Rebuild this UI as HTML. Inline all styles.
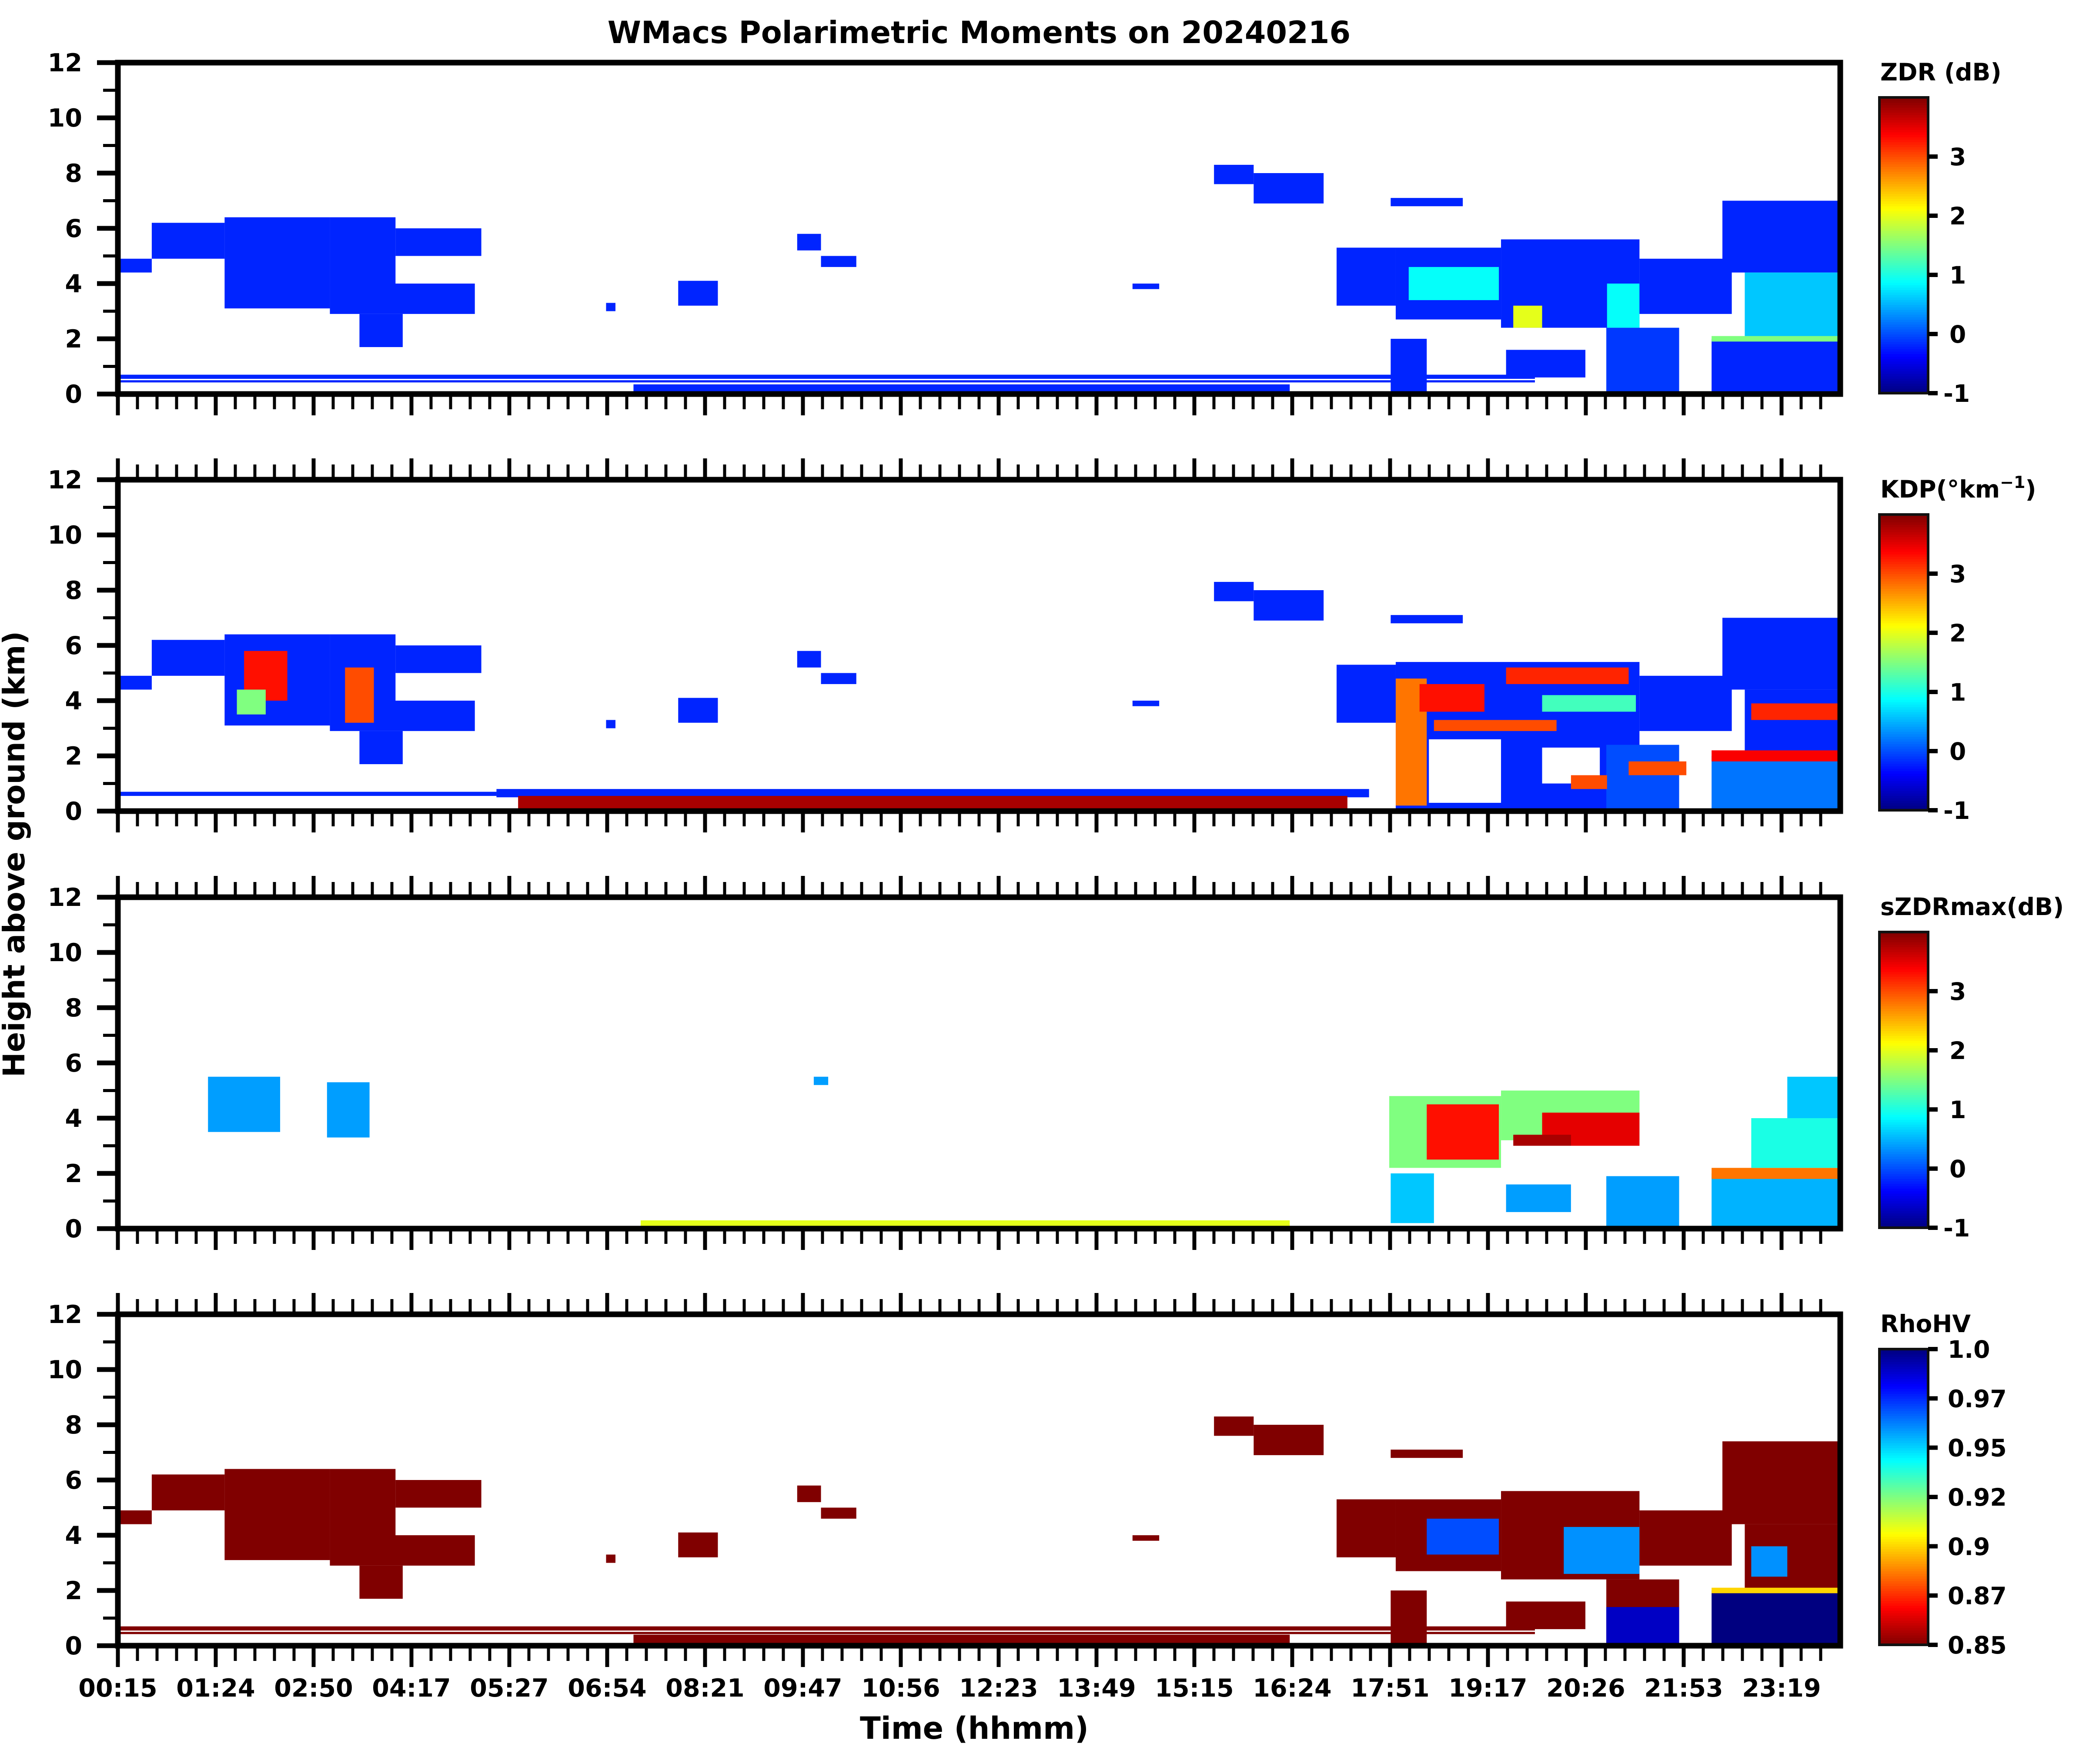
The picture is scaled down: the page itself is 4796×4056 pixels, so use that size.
<!DOCTYPE html>
<html><head><meta charset="utf-8"><style>
html,body{margin:0;padding:0;background:#fff;}
svg{display:block;font-family:"DejaVu Sans","Liberation Sans",sans-serif;font-weight:bold;}
</style></head><body>
<svg id="fig" width="4796" height="4056" viewBox="0 0 4796 4056" xmlns="http://www.w3.org/2000/svg">
<text x="2251" y="99" font-size="70" text-anchor="middle">WMacs Polarimetric Moments on 20240216</text>
<text transform="translate(56,1964) rotate(-90)" font-size="69" text-anchor="middle">Height above ground (km)</text>
<text x="2240" y="3998" font-size="70" text-anchor="middle">Time (hhmm)</text>
</svg>
<script>
// ---- data ----
const xTickLabels = ["00:15","01:24","02:50","04:17","05:27","06:54","08:21","09:47","10:56","12:23","13:49","15:15","16:24","17:51","19:17","20:26","21:53","23:19"];
const yTickLabels = [0,2,4,6,8,10,12];
const panelNames = ["zdr","kdp","szdrmax","rhohv"];
const cbarTitles = ["ZDR (dB)","KDP","sZDRmax(dB)","RhoHV"];
const cbarMin = [-1,-1,-1,0.85];
const cbarMax = [4,4,4,1.0];
const cbarTicksStd = [-1,0,1,2,3];
const cbarTicksRho = ["0.85","0.87","0.9","0.92","0.95","0.97","1.0"];
// cells: [startHour, endHour, bottomKm, topKm, value] (null value = gap)
const zdrCells = [
[0.2,0.72,4.4,4.9,-0.2],[0.72,1.73,4.9,6.2,-0.2],[1.73,3.19,3.1,6.4,-0.2],[3.19,4.1,3.9,6.4,-0.2],
[3.19,5.2,2.9,4.0,-0.2],[4.1,5.29,5.0,6.0,-0.2],[3.6,4.2,1.7,2.9,-0.2],
[9.67,10.0,5.2,5.8,-0.2],[10.0,10.49,4.6,5.0,-0.2],[8.02,8.57,3.2,4.1,-0.2],[7.02,7.15,3.0,3.3,-0.2],
[14.32,14.69,3.8,4.0,-0.2],[15.45,16.0,7.6,8.3,-0.2],[16.0,16.97,6.9,8.0,-0.2],[17.9,18.9,6.8,7.1,-0.2],
[17.15,17.97,3.2,5.3,-0.2],[17.97,19.43,2.7,5.3,-0.2],[19.43,21.35,2.4,5.6,-0.2],
[18.15,19.4,3.4,4.6,0.9],[19.6,20.0,2.4,3.2,2.0],[20.9,21.35,2.4,4.0,0.9],
[21.35,22.63,2.9,4.9,-0.2],[22.5,24.2,4.4,7.0,-0.2],[22.81,24.2,2.0,4.4,0.6],
[22.35,24.2,0.0,2.0,-0.2],[22.35,24.2,1.9,2.1,1.5],[20.89,21.9,0.0,2.4,-0.1],
[17.9,18.4,0.0,2.0,-0.2],[19.5,20.6,0.6,1.6,-0.2],
[0.2,19.9,0.55,0.7,-0.2],[0.2,19.9,0.42,0.5,-0.2],[7.4,16.5,0.0,0.35,-0.2]
];
const kdpCells = [
[0.2,0.72,4.4,4.9,-0.2],[0.72,1.73,4.9,6.2,-0.2],[1.73,3.19,3.1,6.4,-0.2],[3.19,4.1,3.9,6.4,-0.2],
[3.19,5.2,2.9,4.0,-0.2],[4.1,5.29,5.0,6.0,-0.2],[3.6,4.2,1.7,2.9,-0.2],
[2.0,2.6,4.0,5.8,3.3],[3.4,3.8,3.2,5.2,3.0],[1.9,2.3,3.5,4.4,1.5],
[9.67,10.0,5.2,5.8,-0.2],[10.0,10.49,4.6,5.0,-0.2],[8.02,8.57,3.2,4.1,-0.2],[7.02,7.15,3.0,3.3,-0.2],
[14.32,14.69,3.8,4.0,-0.2],[15.45,16.0,7.6,8.3,-0.2],[16.0,16.97,6.9,8.0,-0.2],[17.9,18.9,6.8,7.1,-0.2],
[17.15,17.97,3.2,5.3,-0.2],[17.97,21.35,0.0,5.4,-0.2],[17.97,18.4,0.2,4.8,2.8],
[18.3,19.2,3.6,4.6,3.3],[19.5,21.2,4.6,5.2,3.2],[18.5,20.2,2.9,3.3,3.0],[20.0,21.3,3.6,4.2,1.2],
[18.43,19.43,0.3,2.6,null],[20.0,20.8,1.0,2.3,null],
[21.35,22.63,2.9,4.9,-0.2],[22.5,24.2,4.4,7.0,-0.2],[22.81,24.2,2.0,4.4,-0.2],
[22.9,24.2,3.3,3.9,3.2],[22.35,24.2,0.0,2.0,0.2],[22.35,24.2,1.8,2.2,3.4],[20.89,21.9,0.0,2.4,0.0],
[21.2,22.0,1.3,1.8,3.0],[20.4,20.9,0.8,1.3,3.0],
[0.2,5.5,0.55,0.7,-0.2],[5.5,17.6,0.5,0.8,-0.2],[5.8,17.3,0.1,0.55,3.8]
];
const szdrCells = [
[1.5,2.5,3.5,5.5,0.4],[3.15,3.74,3.3,5.3,0.4],[9.9,10.1,5.2,5.5,0.4],
[17.88,19.43,2.2,4.8,1.5],[18.4,19.4,2.5,4.5,3.3],[19.43,21.35,3.2,5.0,1.5],
[20.0,21.35,3.0,4.2,3.5],[19.6,20.4,3.0,3.4,3.8],[20.89,21.9,0.0,1.9,0.4],
[22.35,24.2,0.0,2.0,0.5],[22.35,24.2,1.8,2.2,2.8],[22.9,24.2,2.2,4.0,1.0],[23.4,24.2,4.0,5.5,0.6],
[7.5,16.5,0.0,0.3,2.0],[17.9,18.5,0.2,2.0,0.6],[19.5,20.4,0.6,1.6,0.4]
];
const rhoCells = [
[0.2,0.72,4.4,4.9,0.85],[0.72,1.73,4.9,6.2,0.85],[1.73,3.19,3.1,6.4,0.85],[3.19,4.1,3.9,6.4,0.85],
[3.19,5.2,2.9,4.0,0.85],[4.1,5.29,5.0,6.0,0.85],[3.6,4.2,1.7,2.9,0.85],
[9.67,10.0,5.2,5.8,0.85],[10.0,10.49,4.6,5.0,0.85],[8.02,8.57,3.2,4.1,0.85],[7.02,7.15,3.0,3.3,0.85],
[14.32,14.69,3.8,4.0,0.85],[15.45,16.0,7.6,8.3,0.85],[16.0,16.97,6.9,8.0,0.85],[17.9,18.9,6.8,7.1,0.85],
[17.15,17.97,3.2,5.3,0.85],[17.97,19.43,2.7,5.3,0.85],[19.43,21.35,2.4,5.6,0.85],
[18.4,19.4,3.3,4.6,0.97],[20.3,21.35,2.6,4.3,0.96],
[21.35,22.63,2.9,4.9,0.85],[22.5,24.2,4.4,7.4,0.85],[22.81,24.2,2.0,4.4,0.85],[22.9,23.4,2.5,3.6,0.96],
[22.35,24.2,0.0,2.0,1.0],[22.35,24.2,1.9,2.1,0.9],[20.89,21.9,0.0,2.4,0.85],[20.89,21.9,0.0,1.4,0.99],
[17.9,18.4,0.0,2.0,0.85],[19.5,20.6,0.6,1.6,0.85],
[0.2,19.9,0.55,0.7,0.85],[0.2,19.9,0.42,0.5,0.85],[7.4,16.5,0.0,0.4,0.85]
];
const allCells = [zdrCells,kdpCells,szdrCells,rhoCells];

// ---- layout ----
const NS = "http://www.w3.org/2000/svg";
const svg = document.getElementById("fig");
const L = 271, R = 4231, PH = 762;
const panelTops = [144, 1103, 2063, 3022];
const T0 = 0.25, X0 = 271, PXH = 165.8;
function xScale(h){ return X0 + (h - T0) * PXH; }
function yScale(km, top){ return top + PH - km / 12 * PH; }
function jet(v){
  v = Math.max(0, Math.min(1, v));
  const c = t => Math.round(255 * Math.max(0, Math.min(1, 1.5 - Math.abs(4 * v - t))));
  return `rgb(${c(3)},${c(2)},${c(1)})`;
}
function colorFor(p, val){
  let t = (val - cbarMin[p]) / (cbarMax[p] - cbarMin[p]);
  if (p === 3) t = 1 - t;
  return jet(t);
}
function mk(tag, attrs, parent){
  const e = document.createElementNS(NS, tag);
  for (const k in attrs) e.setAttribute(k, attrs[k]);
  (parent || svg).appendChild(e);
  return e;
}

panelNames.forEach((name, p) => {
  const top = panelTops[p], bot = top + PH;
  const g = mk("g", {});
  
  
  const clipId = "clip" + p;
  const cp = mk("clipPath", {id: clipId}, g);
  mk("rect", {x: L, y: top, width: R - L, height: PH}, cp);
  const cells = mk("g", {"clip-path": `url(#${clipId})`}, g);
  
  
  allCells[p].forEach(c => {
    const x1 = xScale(c[0]), x2 = xScale(c[1]);
    const y1 = yScale(c[3], top), y2 = yScale(c[2], top);
    const r = mk("rect", {x: x1, y: y1, width: x2 - x1, height: y2 - y1,
      fill: c[4] === null ? "#fff" : colorFor(p, c[4])}, cells);
    
    
  });
  const frame = mk("rect", {x: L, y: top, width: R - L, height: PH, fill: "none", stroke: "#000", "stroke-width": 13}, g);
  
  
  yTickLabels.forEach(v => {
    const y = yScale(v, top);
    mk("line", {x1: L - 48, x2: L, y1: y, y2: y, stroke: "#000", "stroke-width": 11}, g);
    const t = mk("text", {x: L - 82, y: y + 20, "font-size": 57, "text-anchor": "end"}, g);
    t.textContent = v;
    
    
    if (v < 12) {
      const ym = yScale(v + 1, top);
      mk("line", {x1: L - 34, x2: L, y1: ym, y2: ym, stroke: "#000", "stroke-width": 7}, g);
    }
  });
  const step = 225;
  for (let i = 0; i * step / 5 + L <= R - 5; i++) {
    const x = L + i * step / 5;
    const major = i % 5 === 0;
    const len = major ? 49 : 35;
    mk("line", {x1: x, x2: x, y1: bot, y2: bot + len, stroke: "#000", "stroke-width": major ? 9 : 7}, g);
    if (p > 0) mk("line", {x1: x, x2: x, y1: top, y2: top - len, stroke: "#000", "stroke-width": major ? 9 : 7}, g);
  }
  if (p === 3) {
    xTickLabels.forEach((lab, i) => {
      const t = mk("text", {x: L + i * step, y: bot + 117, "font-size": 57, "text-anchor": "middle"}, g);
      t.textContent = lab;
      
      
    });
  }
  const cx = 4321, cw = 112, ctop = top + 80, cbot = bot - 2;
  const cb = mk("g", {}, g);
  
  
  const nSeg = 120;
  for (let k = 0; k < nSeg; k++) {
    const t = k / nSeg;
    const val = cbarMin[p] + (t + 0.5 / nSeg) * (cbarMax[p] - cbarMin[p]);
    const y = cbot - (k + 1) * (cbot - ctop) / nSeg;
    mk("rect", {x: cx, y: y, width: cw, height: (cbot - ctop) / nSeg + 1, fill: colorFor(p, val)}, cb);
  }
  mk("rect", {x: cx, y: ctop, width: cw, height: cbot - ctop, fill: "none", stroke: "#111", "stroke-width": 6}, cb);
  const cbY = v => cbot - (v - cbarMin[p]) / (cbarMax[p] - cbarMin[p]) * (cbot - ctop);
  if (p === 3) {
    cbarTicksRho.forEach((lab, i) => {
      const y = cbot - i * (cbot - ctop) / (cbarTicksRho.length - 1);
      mk("line", {x1: cx + cw, x2: cx + cw + 22, y1: y, y2: y, stroke: "#000", "stroke-width": 10}, cb);
      const t = mk("text", {x: cx + cw + 45, y: y + 20, "font-size": 55}, cb);
      t.textContent = lab;
      
      
    });
  } else {
    cbarTicksStd.forEach(v => {
      const y = cbY(v);
      mk("line", {x1: cx + cw, x2: cx + cw + 22, y1: y, y2: y, stroke: "#000", "stroke-width": 10}, cb);
      const t = mk("text", {x: cx + cw + (v < 0 ? 35 : 49), y: y + 20, "font-size": 55}, cb);
      t.textContent = v;
      
      
    });
  }
  const tt = mk("text", {x: 4323, y: top + 41, "font-size": 55}, cb);
  
  
  if (p === 1) {
    tt.textContent = "KDP(°km";
    const s = mk("tspan", {"font-size": 38, dy: -22}, tt); s.textContent = "−1";
    const s2 = mk("tspan", {dy: 22}, tt); s2.textContent = ")";
  } else {
    tt.textContent = cbarTitles[p];
  }
});
</script>
</body></html>
